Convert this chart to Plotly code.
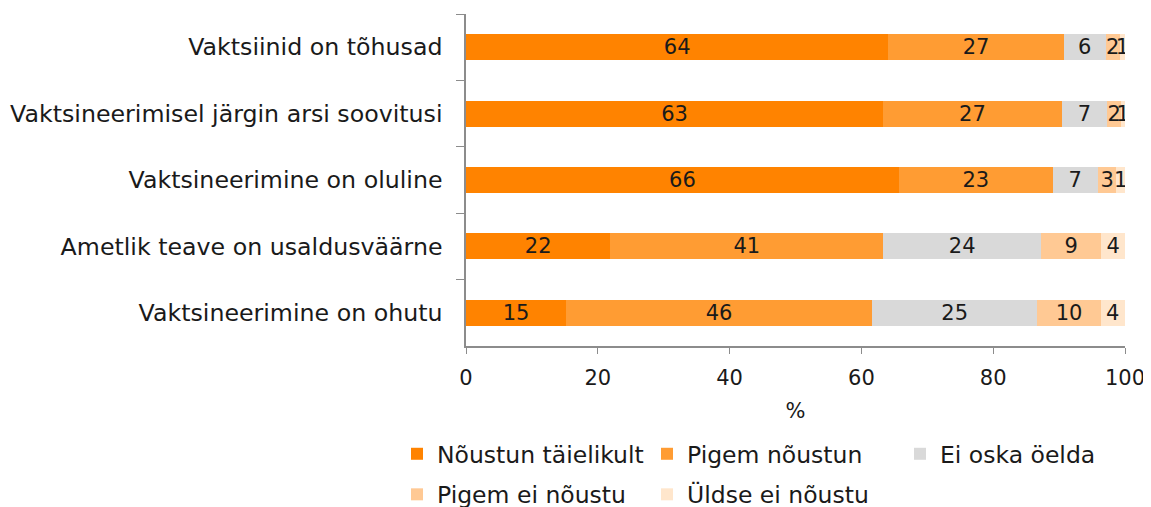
import plotly.graph_objects as go

categories = [
    "Vaktsiinid on tõhusad",
    "Vaktsineerimisel järgin arsi soovitusi",
    "Vaktsineerimine on oluline",
    "Ametlik teave on usaldusväärne",
    "Vaktsineerimine on ohutu",
]
series_names = ["Nõustun täielikult", "Pigem nõustun", "Ei oska öelda",
                "Pigem ei nõustu", "Üldse ei nõustu"]
noustun_taielikult = [64.1, 63.3, 65.7, 21.9, 15.2]
pigem_noustun = [26.6, 27.1, 23.3, 41.4, 46.4]
ei_oska_oelda = [6.4, 6.9, 6.9, 24.0, 25.1]
pigem_ei_noustu = [2.1, 2.1, 2.8, 9.1, 9.6]
uldse_ei_noustu = [0.8, 0.6, 1.3, 3.6, 3.7]
x_ticks = [0, 20, 40, 60, 80, 100]

values = [noustun_taielikult, pigem_noustun, ei_oska_oelda, pigem_ei_noustu, uldse_ei_noustu]
colors = ["#FF8300", "#FF9C33", "#D9D9D9", "#FFC994", "#FFE6CC"]
legend_ids = ["legend", "legend2", "legend3", "legend", "legend2"]

FONT = "DejaVu Sans"
TXT = "#1a1a1a"
W, H = 1143, 499  # page body adds an 8px margin

fig = go.Figure()
for name, vals, col, lg in zip(series_names, values, colors, legend_ids):
    fig.add_trace(go.Bar(
        y=categories, x=vals, name=name, orientation="h",
        marker=dict(color=col, line=dict(width=0)),
        texttemplate="%{x:.0f}", textposition="inside",
        insidetextanchor="middle", textangle=0,
        textfont=dict(family=FONT, size=21, color=TXT),
        legend=lg, legendgroup=name,
    ))

legend_common = dict(orientation="v", font=dict(family=FONT, size=23.5, color=TXT),
                     bgcolor="rgba(0,0,0,0)", tracegroupgap=7,
                     xref="container", yref="container",
                     xanchor="left", yanchor="top", itemclick=False)
legend_top = 1 - 424 / H

fig.update_layout(
    width=W, height=H,
    barmode="stack", bargap=0.61,
    plot_bgcolor="white", paper_bgcolor="white",
    margin=dict(l=458, r=26, t=6, b=161, autoexpand=False),
    uniformtext=dict(minsize=21, mode="show"),
    font=dict(family=FONT, size=22, color=TXT),
    xaxis=dict(range=[0, 100], tickvals=x_ticks, showgrid=False, zeroline=False,
               showline=True, linecolor="#8c8c8c", linewidth=1.5,
               ticks="outside", ticklen=6, tickcolor="#8c8c8c",
               ticklabelstandoff=6, automargin=False,
               tickfont=dict(family=FONT, size=21, color=TXT),
               title=dict(text="%", font=dict(family=FONT, size=21), standoff=14)),
    yaxis=dict(autorange="reversed", showgrid=False, showline=True,
               linecolor="#8c8c8c", linewidth=1.5, ticks="outside", ticklen=8,
               tickcolor="#8c8c8c", tickson="boundaries",
               ticklabelstandoff=17, automargin=False,
               tickfont=dict(family=FONT, size=23.7, color=TXT)),
    legend=dict(x=389 / W, y=legend_top, **legend_common),
    legend2=dict(x=639 / W, y=legend_top, **legend_common),
    legend3=dict(x=892 / W, y=legend_top, **legend_common),
    showlegend=True,
)

fig.write_html("out.html")
